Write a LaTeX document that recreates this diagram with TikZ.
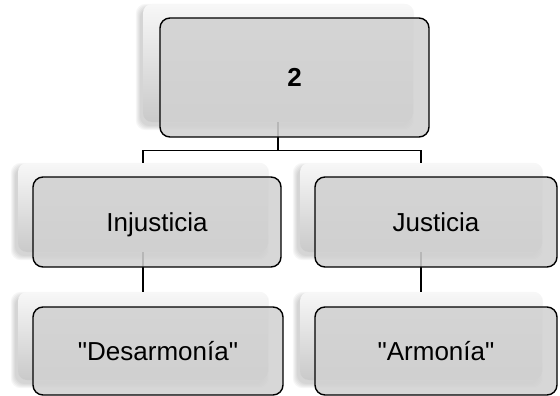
\documentclass[tikz,border=0pt]{standalone}
\usepackage{fontspec}
\setmainfont{Liberation Sans}[Ligatures=TeXOff]
\usetikzlibrary{backgrounds}
\begin{document}
\begin{tikzpicture}[x=1pt,y=-1pt,
  panel/.style={draw=none, rounded corners=9pt, inner sep=0pt,
    top color=black!3, bottom color=black!21},
  card/.style={draw=black, line width=1.4pt, rounded corners=10pt, inner sep=0pt,
    fill=black!18, fill opacity=0.88, text opacity=1, text=black,
    text height=20pt, text depth=2pt,
    font=\fontsize{26}{30}\selectfont},
  link/.style={draw=black, line width=1.2pt}]
\useasboundingbox (0,0) rectangle (560,396);

% back panels
\node[panel, minimum width=250pt, minimum height=89pt] (injS) at (143,207.5) {};
\node[panel, minimum width=242pt, minimum height=89pt] (jusS) at (421,207.5) {};
\node[panel, minimum width=250pt, minimum height=88pt] (desS) at (143,336) {};
\node[panel, minimum width=242pt, minimum height=88pt] (armS) at (421,336) {};
\node[panel, minimum width=270pt, minimum height=118pt] (topS) at (278,63) {};

% soft shadows under the back panels
\begin{scope}[on background layer]
  \foreach \n in {topS,injS,jusS,desS,armS}{
    \foreach \e in {0,1,2,3,4}{
      \fill[black, fill opacity=0.035, rounded corners=10pt]
        ([shift={(-3-\e,4+\e)}]\n.south west) rectangle ([shift={(-3+\e,4-\e)}]\n.north east);
    }
  }
\end{scope}

% connectors
\draw[link] (topS.south) -- ++(0,28) coordinate (fork);
\draw[link] (fork) -| (injS.north);
\draw[link] (fork) -| (jusS.north);
\draw[link] (injS.south) -- (desS.north);
\draw[link] (jusS.south) -- (armS.north);

% front cards
\node[card, minimum width=269pt, minimum height=119pt] (top) at (294.5,77.5) {\textbf{2}};
\node[card, minimum width=248pt, minimum height=90pt] (inj) at (157,222) {Injusticia};
\node[card, minimum width=242pt, minimum height=90pt] (jus) at (436,222) {Justicia};
\node[card, minimum width=250pt, minimum height=88pt] (des) at (158,351) {"Desarmonía"};
\node[card, minimum width=242pt, minimum height=88pt] (arm) at (436,351) {"Armonía"};
\end{tikzpicture}
\end{document}
